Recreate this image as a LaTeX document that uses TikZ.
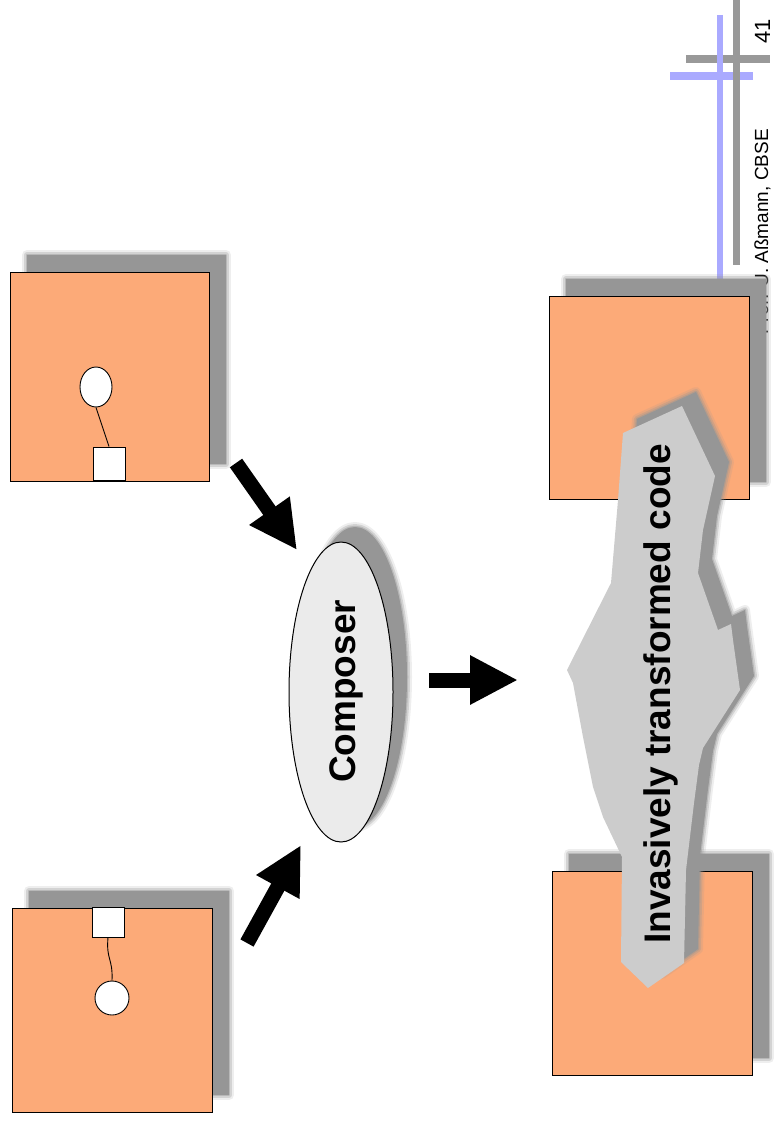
\documentclass[tikz,border=0pt]{standalone}
\usepackage{fontspec}
\setmainfont{Liberation Sans}
\usetikzlibrary{shapes.geometric,arrows.meta}
\definecolor{peach}{RGB}{252,170,120}
\definecolor{blobgray}{RGB}{204,204,204}
\definecolor{compfill}{RGB}{235,235,235}
\definecolor{hdrblue}{RGB}{170,170,255}
\definecolor{hdrgray}{RGB}{153,153,153}
\definecolor{shadowgray}{RGB}{150,150,150}
\begin{document}
\begin{tikzpicture}[x=1pt,y=-1pt,
  softshadow/.style={
    preaction={draw=shadowgray,draw opacity=0.16,line width=10pt,line join=round,transform canvas={shift={(#1)}}},
    preaction={draw=shadowgray,draw opacity=0.3,line width=6pt,line join=round,transform canvas={shift={(#1)}}},
    preaction={draw=shadowgray,draw opacity=0.45,line width=2.5pt,line join=round,transform canvas={shift={(#1)}}},
    preaction={fill=shadowgray,transform canvas={shift={(#1)}}}},
  compbox/.style={draw=black,line width=1pt,fill=peach,inner sep=0pt,softshadow={17pt,17pt}},
  port/.style={draw=black,line width=0.9pt,fill=white,inner sep=0pt},
  wire/.style={draw=black,line width=0.9pt},
  bigarrow/.style={draw=black,line width=15pt,-{Triangle[length=48pt,width=46pt]}},
  bigtext/.style={font=\bfseries\fontsize{37}{40}\selectfont,inner sep=0pt},
  hdrline/.style={line width=#1}
]
\useasboundingbox (0,0) rectangle (779,1121);

% header
\coordinate (bh1) at (670,76); \coordinate (bh2) at (753,76);
\coordinate (gv1) at (736,0);  \coordinate (gv2) at (736,265);
\coordinate (gh1) at (686,59); \coordinate (gh2) at (770,59);
\coordinate (bv1) at (720,15); \coordinate (bv2) at (720,280);
\draw[hdrblue,hdrline=8pt] (bh1) -- (bh2);
\draw[hdrgray,hdrline=7pt] (gv1) -- (gv2);
\draw[hdrgray,hdrline=8pt] (gh1) -- (gh2);
\draw[hdrblue,hdrline=6pt] (bv1) -- (bv2);
\node[rotate=90,anchor=base,inner sep=0pt,font=\fontsize{22}{24}\selectfont] (pagenum) at (770,31) {41};
\node[rotate=90,anchor=base,inner sep=0pt,font=\fontsize{19}{22}\selectfont] (author) at (768,232) {Prof. U. Aßmann, CBSE};

% left components
\node[compbox,minimum width=199pt,minimum height=209pt] (boxA) at (109.5,376.5) {};
\node[port,ellipse,minimum width=32pt,minimum height=40pt] (ellA) at (96,387) {};
\node[port,rectangle,minimum width=32pt,minimum height=33pt] (sqA) at (109,463.5) {};
\draw[wire] (ellA.south) -- (sqA.north);

\node[compbox,minimum width=200pt,minimum height=204pt] (boxB) at (112,1010) {};
\node[port,rectangle,minimum width=32pt,minimum height=30pt] (sqB) at (108,922) {};
\node[port,circle,minimum size=34pt] (circB) at (112,998) {};
\draw[wire] (sqB.south) .. controls (106,960) and (113,958) .. (circB.north);

% composer
\node[ellipse,draw=black,line width=1pt,fill=compfill,minimum width=104pt,minimum height=300pt,inner sep=0pt,
  softshadow={14pt,15pt}] (comp) at (341,692) {};
\node[bigtext,rotate=90,anchor=base] (comptext) at (355,691.5) {Composer};

% arrows
\coordinate (a1s) at (236,463); \coordinate (a1e) at (297,550);
\coordinate (a2s) at (247,943); \coordinate (a2e) at (301,845);
\coordinate (a3s) at (429,680); \coordinate (a3e) at (518,680);
\draw[bigarrow] (a1s) -- (a1e);
\draw[bigarrow] (a2s) -- (a2e);
\draw[bigarrow] (a3s) -- (a3e);

% right components
\node[compbox,minimum width=200pt,minimum height=203pt] (boxC) at (649,397.5) {};
\node[compbox,minimum width=200pt,minimum height=204pt] (boxD) at (652,973) {};

% invasive blob
\fill[blobgray,softshadow={14pt,14pt}]
  (623,433) -- (682,406) -- (715,476) -- (703,530) -- (698,573) -- (718,630) -- (731,624) -- (733,640)
  -- (740,690) -- (703,748) -- (699,765) -- (694,803) -- (686,870) -- (684,963) -- (648,988)
  -- (621,962) -- (622,857) -- (603,817) -- (593,787) -- (583,737) -- (573,683) -- (567,670)
  -- (611,583) -- (618,500) -- cycle;
\node[bigtext,rotate=90,anchor=base] (blobtext) at (670,694) {Invasively transformed code};
\end{tikzpicture}
\end{document}
